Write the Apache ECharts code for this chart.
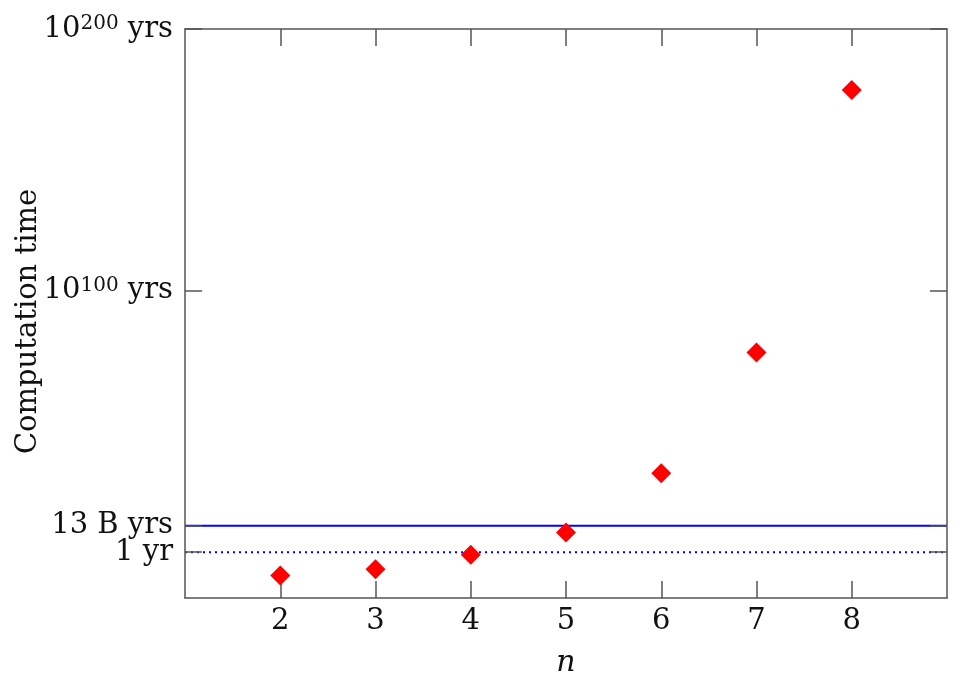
<!DOCTYPE html>
<html>
<head>
<meta charset="utf-8">
<script src="https://cdn.jsdelivr.net/npm/echarts@6/dist/echarts.min.js"></script>
<style>
html,body{margin:0;padding:0;background:#fff;}
#chart{width:960px;height:690px;}
</style>
</head>
<body>
<div id="chart"></div>
<script>
// ---- data (y values are log10 of computation time in years) ----
const nValues = [2, 3, 4, 5, 6, 7, 8];
const logYears = [-8.9, -6.5, -1.0, 7.5, 30.2, 76.3, 176.7];
const xRange = [1, 9];
const yRange = [-17.5, 200];
const xTickValues = [2, 3, 4, 5, 6, 7, 8];
const yTickValues = [0, 100, 200];                    // log10(years)
const yTickLabels = ['{b|1 yr}', '{b|10}{s|100}{b| yrs}', '{b|10}{s|200}{b| yrs}'];
const ageTickValues = [10.114];                       // log10(13e9)
const ageTickLabels = ['13 B yrs'];
const refLineValues = [10.114, 0];                    // 13 B yrs, 1 yr
const refLineStyles = ['solid', 'dotted'];

const serif = '"DejaVu Serif", "Liberation Serif", serif';
const axisColor = '#555';

const chart = echarts.init(document.getElementById('chart'), null, {renderer: 'canvas'});

function yLabel(v) {
  let best = 0, bd = Infinity;
  yTickValues.forEach((t, i) => { const d = Math.abs(t - v); if (d < bd) { bd = d; best = i; } });
  return yTickLabels[best];
}

const axLine = {show: true, onZero: false, lineStyle: {color: axisColor, width: 1.5}};
const axTick = (vals) => ({show: true, inside: true, length: 17, customValues: vals, lineStyle: {color: axisColor, width: 1.5}});
const allYTicks = yTickValues.concat(ageTickValues);

const scatterData = nValues.map((n, i) => [n, logYears[i]]);

const refSeries = refLineValues.map((v, i) => ({
  type: 'line', silent: true, z: 1, showSymbol: false, symbol: 'none',
  data: [[xRange[0], v], [xRange[1], v]],
  lineStyle: refLineStyles[i] === 'solid'
    ? {color: '#0000ff', width: 2, type: 'solid'}
    : {color: '#0000ff', width: 2, type: [2, 4]}
}));

chart.setOption({
  animation: false,
  backgroundColor: '#fff',
  grid: {left: 185, right: 13, top: 29, bottom: 92, containLabel: false, outerBoundsMode: 'none'},
  xAxis: [
    {
      type: 'value', min: xRange[0], max: xRange[1], interval: 1, position: 'bottom',
      name: 'n', nameLocation: 'middle', nameGap: 50, nameMoveOverlap: false,
      nameTextStyle: {fontFamily: serif, fontStyle: 'italic', fontSize: 30, color: '#111'},
      axisLine: axLine, axisTick: axTick(xTickValues),
      axisLabel: {customValues: xTickValues, margin: 9, hideOverlap: false, fontFamily: serif, fontSize: 29, color: '#111'},
      splitLine: {show: false}, z: 5
    },
    {
      type: 'value', min: xRange[0], max: xRange[1], interval: 1, position: 'top',
      axisLine: axLine, axisTick: axTick(xTickValues),
      axisLabel: {show: false}, splitLine: {show: false}, z: 5
    }
  ],
  yAxis: [
    {
      type: 'value', min: yRange[0], max: yRange[1], position: 'left',
      name: 'Computation time', nameLocation: 'middle', nameGap: 142, nameRotate: 90,
      nameMoveOverlap: false,
      nameTextStyle: {fontFamily: serif, fontSize: 29, color: '#111', padding: [0, 0, 0, -16]},
      axisLine: axLine, axisTick: axTick(allYTicks),
      axisLabel: {
        customValues: yTickValues, margin: 12, hideOverlap: false,
        formatter: yLabel,
        rich: {
          b: {fontFamily: serif, fontSize: 29, color: '#111', lineHeight: 30},
          s: {fontFamily: serif, fontSize: 20, color: '#111', lineHeight: 20, verticalAlign: 'top', padding: [0, 0, 12, 0]}
        }
      },
      splitLine: {show: false}, z: 5
    },
    {
      type: 'value', min: yRange[0], max: yRange[1], position: 'right',
      axisLine: axLine, axisTick: axTick(allYTicks),
      axisLabel: {show: false}, splitLine: {show: false}, z: 5
    },
    {
      type: 'value', min: yRange[0], max: yRange[1], position: 'left', offset: 0,
      axisLine: {show: false}, axisTick: {show: false},
      axisLabel: {
        customValues: ageTickValues, margin: 12, hideOverlap: false,
        formatter: () => ageTickLabels[0],
        fontFamily: serif, fontSize: 29, color: '#111', lineHeight: 30
      },
      splitLine: {show: false}, z: 5
    }
  ],
  series: refSeries.concat([
    {
      type: 'scatter', data: scatterData, symbol: 'diamond', symbolSize: 20, z: 10,
      itemStyle: {color: '#ff0000', opacity: 1}
    }
  ])
});
</script>
</body>
</html>
